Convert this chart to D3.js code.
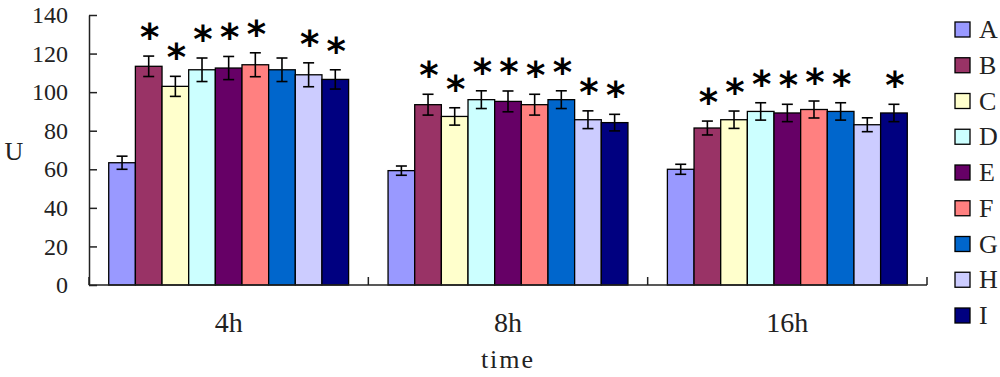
<!DOCTYPE html>
<html>
<head>
<meta charset="utf-8">
<script src="https://cdn.jsdelivr.net/npm/d3@7"></script>
<style>
  body{margin:0;background:#fff}
  text{font-family:"Liberation Serif","DejaVu Serif",serif}
</style>
</head>
<body>
<svg width="1000" height="377"></svg>
<script>
// категории и серии
const categories=['4h','8h','16h']
const series=['A','B','C','D','E','F','G','H','I']
const colors=['#9999FF','#993366','#FFFFCC','#CCFFFF','#660066','#FF8080','#0066CC','#CCCCFF','#000080']

// значения по группам (A..I)
const values4h=[63.4,113.4,103,111.6,112.5,114.2,111.6,109,106.6]
const values8h=[59.3,93.5,87.4,96.1,95.2,93.5,96.1,85.7,84.2]
const values16h=[60,81.4,85.7,90,89.2,91,90,83.1,89.2]
// погрешности
const err4h=[3.4,5.3,5.2,6.1,6,6.2,6.1,6.2,5]
const err8h=[2.4,5.4,4.5,4.6,5.4,5.4,4.6,4.6,4.3]
const err16h=[2.6,3.6,4.5,4.5,4.5,4.4,4.5,3.6,4.5]
// звёздочки (1 - есть)
const stars4h=[0,1,1,1,1,1,0,1,1]
const stars8h=[0,1,1,1,1,1,1,1,1]
const stars16h=[0,1,1,1,1,1,1,0,1]
const yTicks=[0,20,40,60,80,100,120,140]

const groups=[values4h,values8h,values16h]
const errs=[err4h,err8h,err16h]
const starsAll=[stars4h,stars8h,stars16h]

const svg=d3.select('svg')
const x0=d3.scaleBand().domain(categories).range([89,927])
const x1=d3.scaleBand().domain(series).range([0,x0.bandwidth()]).paddingInner(0).paddingOuter(0.74)
const y=d3.scaleLinear().domain([0,140]).range([285,15])
const color=d3.scaleOrdinal().domain(series).range(colors)

let data=[]
categories.forEach((c,gi)=>{
  series.forEach((s,si)=>{
    data.push({cat:c, s:s, v:groups[gi][si], e:errs[gi][si], star:starsAll[gi][si]})
  })
})

//столбцы
svg.append('g').selectAll('rect').data(data).join('rect')
  .attr('x',d=>x0(d.cat)+x1(d.s))
  .attr('y',d=>y(d.v))
  .attr('width',x1.bandwidth())
  .attr('height',d=>y(0)-y(d.v))
  .attr('fill',d=>color(d.s))
  .attr('stroke','#000')
  .attr('stroke-width',1.3)

//погрешности
const eb=svg.append('g').attr('stroke','#000').attr('stroke-width',1.6)
data.forEach(d=>{
  const cx=x0(d.cat)+x1(d.s)+x1.bandwidth()/2
  eb.append('line').attr('x1',cx).attr('x2',cx).attr('y1',y(d.v+d.e)).attr('y2',y(d.v-d.e))
  eb.append('line').attr('x1',cx-5.5).attr('x2',cx+5.5).attr('y1',y(d.v+d.e)).attr('y2',y(d.v+d.e))
  eb.append('line').attr('x1',cx-5.5).attr('x2',cx+5.5).attr('y1',y(d.v-d.e)).attr('y2',y(d.v-d.e))
})

//звёздочки
svg.append('g').selectAll('text').data(data.filter(d=>d.star)).join('text')
  .attr('x',d=>x0(d.cat)+x1(d.s)+x1.bandwidth()/2+1)
  .attr('y',d=>y(d.v+d.e)-6)
  .attr('text-anchor','middle')
  .style('font-family','"DejaVu Sans",sans-serif')
  .style('font-size','37px')
  .style('font-weight','bold')
  .text('*')

//оси
const yAxis=d3.axisLeft(y).tickValues(yTicks).tickSizeInner(-8).tickSizeOuter(0).tickPadding(21)
const gy=svg.append('g').attr('transform','translate(89,0)').call(yAxis)
gy.selectAll('text').style('font-size','24px').attr('fill','#222')
gy.selectAll('line,path').attr('stroke','#222').attr('stroke-width',1.5)

const gx=svg.append('g')
gx.append('line').attr('x1',89).attr('x2',927).attr('y1',y(0)).attr('y2',y(0)).attr('stroke','#222').attr('stroke-width',1.5)
const bounds=categories.map(c=>x0(c)).concat([x0.range()[1]])
gx.selectAll('.tk').data(bounds).join('line')
  .attr('x1',d=>d).attr('x2',d=>d).attr('y1',y(0)).attr('y2',y(0)-8)
  .attr('stroke','#222').attr('stroke-width',1.5)
gx.selectAll('text').data(categories).join('text')
  .attr('x',d=>x0(d)+x0.bandwidth()/2)
  .attr('y',332)
  .attr('text-anchor','middle')
  .style('font-size','28px')
  .attr('fill','#222')
  .text(d=>d)

svg.append('text').attr('x',508).attr('y',368).attr('text-anchor','middle')
  .style('font-size','26px').style('letter-spacing','2px').attr('fill','#222').text('time')
svg.append('text').attr('x',14).attr('y',160).attr('text-anchor','middle')
  .style('font-size','26px').attr('fill','#222').text('U')

//легенда
const leg=svg.append('g').selectAll('g').data(series).join('g')
  .attr('transform',(d,i)=>`translate(955,${22+i*35.75})`)
leg.append('rect').attr('width',15).attr('height',15)
  .attr('fill',d=>color(d)).attr('stroke','#000').attr('stroke-width',1.3)
leg.append('text').attr('x',24).attr('y',16).style('font-size','26px').attr('fill','#222').text(d=>d)
</script>
</body>
</html>
